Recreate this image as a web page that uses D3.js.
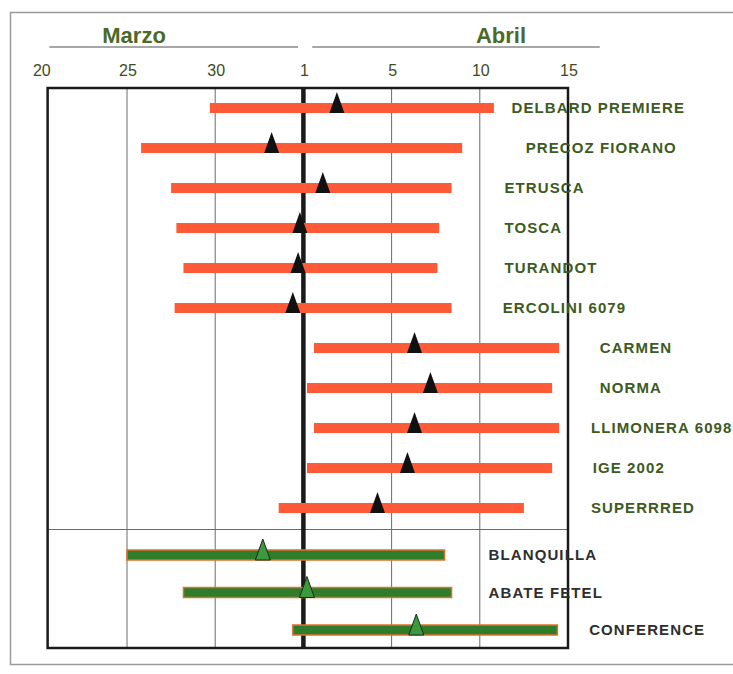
<!DOCTYPE html>
<html>
<head>
<meta charset="utf-8">
<script src="https://cdnjs.cloudflare.com/ajax/libs/d3/7.8.5/d3.min.js"></script>
<style>
  body { margin: 0; background: #fff; }
  svg { display: block; font-family: "Liberation Sans", Arial, sans-serif; }
</style>
</head>
<body>
<div id="chart"></div>
<script>
// Varieties, top to bottom (peaches first, pears after the divider)
const varieties = ["DELBARD PREMIERE", "PRECOZ FIORANO", "ETRUSCA", "TOSCA", "TURANDOT",
    "ERCOLINI 6079", "CARMEN", "NORMA", "LLIMONERA 6098", "IGE 2002", "SUPERRRED",
    "BLANQUILLA", "ABATE FETEL", "CONFERENCE"];
const groups = ["red", "red", "red", "red", "red", "red", "red", "red", "red", "red", "red",
    "green", "green", "green"];

// Axis units: 20..30 = March days, 35 = 1 April, 40 = 5 April, 45 = 10 April, 50 = 15 April
const startDay = [29.7, 25.8, 27.5, 27.8, 28.2, 27.7, 35.6, 35.2, 35.6, 35.2, 33.6, 25.0, 28.2, 34.4];
const endDay   = [45.8, 44.0, 43.4, 42.7, 42.6, 43.4, 49.5, 49.1, 49.5, 49.1, 47.5, 43.0, 43.4, 49.4];
const peakDay  = [36.9, 33.2, 36.1, 34.8, 34.7, 34.4, 41.3, 42.2, 41.3, 40.9, 39.2, 32.7, 35.2, 41.4];

// Label anchor (axis units)
const labelAt = [46.8, 47.6, 46.4, 46.4, 46.4, 46.3, 51.8, 51.8, 51.3, 51.4, 51.3, 45.5, 45.5, 51.2];

const tickValues = [20, 25, 30, 35, 40, 45, 50];
const tickLabels = ["20", "25", "30", "1", "5", "10", "15"];
const months = [{ name: "Marzo", from: 20.6, to: 34.7, at: 25.4 },
                { name: "Abril", from: 35.5, to: 51.8, at: 46.2 }];

//Width and height
var w = 733;
var h = 674;

var svg = d3.select("#chart")
    .append("svg")
    .attr("width", w)
    .attr("height", h);

//Scales (one row scale per group, the divider sits between them)
var x = d3.scaleLinear().domain([25, 50]).range([127, 568]);
var yRed = d3.scalePoint().domain(varieties.filter((d, i) => groups[i] === "red")).range([108, 508]);
var yGreen = d3.scalePoint().domain(varieties.filter((d, i) => groups[i] === "green")).range([555, 630]);
var y = d => yRed.domain().includes(d) ? yRed(d) : yGreen(d);

var plotTop = 88, plotBottom = 648, plotLeft = x(20.5), plotRight = x(50);

//Outer border
svg.append("rect")
    .attr("x", 10.5).attr("y", 12.5)
    .attr("width", 740).attr("height", 652)
    .attr("fill", "none")
    .attr("stroke", "#9a9a9a")
    .attr("stroke-width", 1.5);

//Month headers
svg.selectAll(".month-line")
    .data(months)
    .join("line")
    .attr("x1", d => x(d.from))
    .attr("x2", d => x(d.to))
    .attr("y1", 47).attr("y2", 47)
    .attr("stroke", "#8a8a8a")
    .attr("stroke-width", 1.5);

svg.selectAll(".month")
    .data(months)
    .join("text")
    .attr("x", d => x(d.at))
    .attr("y", 43)
    .attr("text-anchor", "middle")
    .attr("fill", "#4b6a2a")
    .style("font-size", "22px")
    .style("font-weight", "bold")
    .text(d => d.name);

//Tick labels
svg.selectAll(".tick-label")
    .data(tickValues)
    .join("text")
    .attr("x", d => x(d) + (d === 20 ? 3 : 1))
    .attr("y", 76)
    .attr("text-anchor", "middle")
    .attr("fill", "#3e4a22")
    .style("font-size", "16px")
    .text((d, i) => tickLabels[i]);

//Grid lines
svg.selectAll(".grid")
    .data(tickValues.filter(d => d > 20 && d < 50 && d !== 35))
    .join("line")
    .attr("x1", d => x(d)).attr("x2", d => x(d))
    .attr("y1", plotTop).attr("y2", plotBottom)
    .attr("stroke", "#6a6a6a")
    .attr("stroke-width", 1);

//Divider between groups
var sep = (y("SUPERRRED") + y("BLANQUILLA")) / 2 - 2;
svg.append("line")
    .attr("x1", plotLeft).attr("x2", plotRight)
    .attr("y1", sep).attr("y2", sep)
    .attr("stroke", "#6a6a6a")
    .attr("stroke-width", 1);

//Frame
svg.append("rect")
    .attr("x", plotLeft).attr("y", plotTop)
    .attr("width", plotRight - plotLeft).attr("height", plotBottom - plotTop)
    .attr("fill", "none")
    .attr("stroke", "#1a1a1a")
    .attr("stroke-width", 2.5);

//Thick line at 1 April
svg.append("line")
    .attr("x1", x(35)).attr("x2", x(35))
    .attr("y1", plotTop).attr("y2", plotBottom)
    .attr("stroke", "#1a1a1a")
    .attr("stroke-width", 4.5);

//Bars
var barH = 10;
svg.selectAll(".bar")
    .data(varieties)
    .join("rect")
    .attr("x", (d, i) => x(startDay[i]))
    .attr("y", d => y(d) - barH / 2)
    .attr("width", (d, i) => x(endDay[i]) - x(startDay[i]))
    .attr("height", barH)
    .attr("fill", (d, i) => groups[i] === "red" ? "#ff5a38" : "#2f7d2a")
    .attr("stroke", (d, i) => groups[i] === "red" ? "none" : "#e0702e")
    .attr("stroke-width", 1.5);

//Triangles (full bloom)
var triW = 15, triH = 21;
svg.selectAll(".peak")
    .data(varieties)
    .join("path")
    .attr("d", (d, i) => {
        var cx = x(peakDay[i]), by = y(d) + barH / 2;
        return `M${cx - triW / 2},${by}L${cx},${by - triH}L${cx + triW / 2},${by}Z`;
    })
    .attr("fill", (d, i) => groups[i] === "red" ? "#111" : "#3b9a3b")
    .attr("stroke", "#1a2a1a")
    .attr("stroke-width", (d, i) => groups[i] === "red" ? 0 : 1);

//Labels
svg.selectAll(".label")
    .data(varieties)
    .join("text")
    .attr("x", (d, i) => x(labelAt[i]))
    .attr("y", d => y(d) + 5)
    .attr("fill", (d, i) => groups[i] === "red" ? "#3d5a22" : "#2e2e2e")
    .style("font-size", "15px")
    .style("font-weight", "bold")
    .style("letter-spacing", "1.1px")
    .text(d => d);
</script>
</body>
</html>
